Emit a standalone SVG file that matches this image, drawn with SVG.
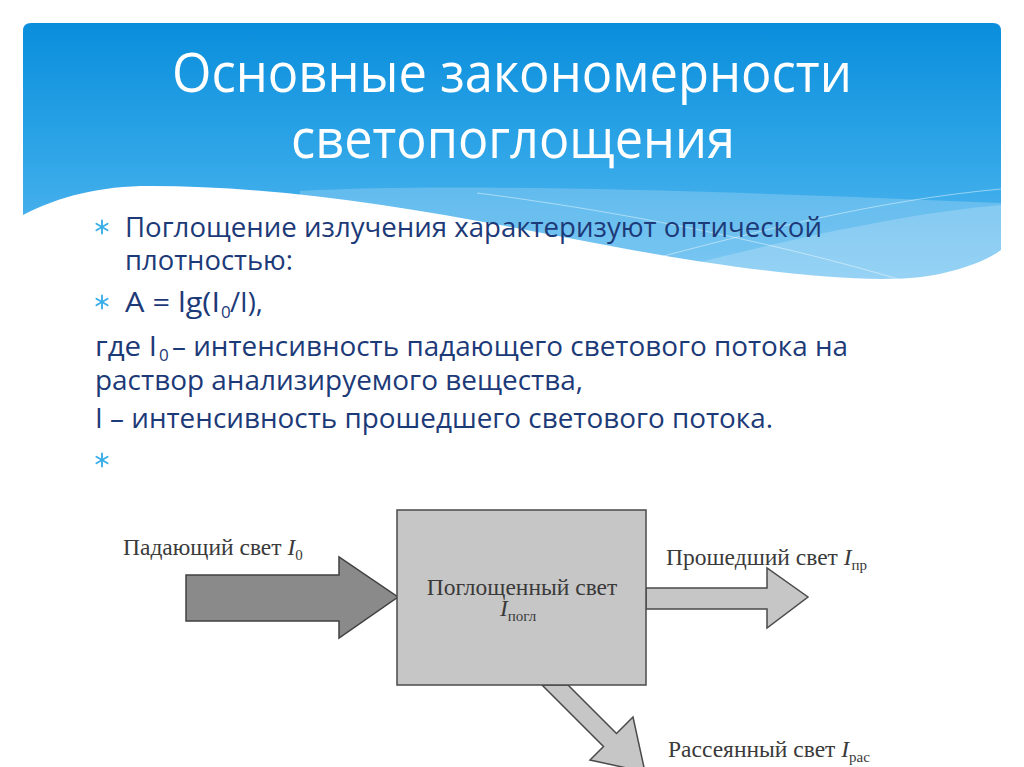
<svg xmlns="http://www.w3.org/2000/svg" width="1024" height="767" viewBox="0 0 1024 767">
<defs>
<linearGradient id="hdr" x1="0" y1="23" x2="0" y2="280" gradientUnits="userSpaceOnUse">
<stop offset="0" stop-color="#0a8edc"/>
<stop offset="0.5" stop-color="#2ea5e7"/>
<stop offset="1" stop-color="#5cbaf0"/>
</linearGradient>
<g id="star" stroke="#3aaee8" stroke-width="1.9" stroke-linecap="round">
<line x1="0" y1="-6.5" x2="0" y2="6.5"/>
<line x1="-5.6" y1="-3.2" x2="5.6" y2="3.2"/>
<line x1="-5.6" y1="3.2" x2="5.6" y2="-3.2"/>
</g>
<style>
.title{font-family:"Open Sans","DejaVu Sans",sans-serif;font-size:54px;fill:#ffffff}
.body{font-family:"Open Sans","DejaVu Sans",sans-serif;font-size:27px;fill:#1d3a78}
.sub{font-size:17px}
.lbl{font-family:"Liberation Serif","Times New Roman",serif;font-size:23.5px;fill:#3a3a3a}
.it{font-style:italic}
.ls{font-size:15px}
.box{fill:#c6c6c6;stroke:#4a4a4a;stroke-width:1.5}
.dark{fill:#8a8a8a;stroke:#404040;stroke-width:1.5;stroke-linejoin:miter}
.light{fill:#c6c6c6;stroke:#4a4a4a;stroke-width:1.5;stroke-linejoin:miter}
</style>
</defs>
<rect width="1024" height="767" fill="#ffffff"/>
<g id="header">
<path d="M23 300 L23 31 Q23 23 31 23 L993 23 Q1001 23 1001 31 L1001 300 Z" fill="url(#hdr)"/>
<path d="M300 191 C450 183 700 190 1001 203 L1001 300 L300 300 Z" fill="#ffffff" opacity="0.2"/>
<path d="M700 262 C820 232 920 212 1001 205 L1001 300 L700 300 Z" fill="#ffffff" opacity="0.2"/>
<path d="M477 193 C650 215 800 250 898 279" fill="none" stroke="#ffffff" stroke-opacity="0.45" stroke-width="1"/>
<path d="M630 265 C760 230 880 200 1001 189" fill="none" stroke="#ffffff" stroke-opacity="0.45" stroke-width="1"/>
<path d="M0 218 L23 215 C60 196 100 186 150 186 C300 186 450 215 600 244 C720 267 840 283 910 278 C950 275 985 262 1001 250 L1024 240 L1024 320 L0 320 Z" fill="#ffffff"/>
<text class="title"><tspan x="172" y="92" textLength="680" lengthAdjust="spacingAndGlyphs">Основные закономерности</tspan><tspan x="291" y="158" textLength="444" lengthAdjust="spacingAndGlyphs">светопоглощения</tspan></text>
</g>
<g id="bullets">
<use href="#star" x="102" y="227"/>
<use href="#star" x="102" y="302"/>
<use href="#star" x="102" y="460"/>
<text class="body"><tspan x="125" y="237" textLength="697" lengthAdjust="spacingAndGlyphs">Поглощение излучения характеризуют оптической</tspan><tspan x="125" y="270" textLength="168" lengthAdjust="spacingAndGlyphs">плотностью:</tspan></text>
<text class="body"><tspan x="125" y="312" textLength="95" lengthAdjust="spacingAndGlyphs">A = lg(I</tspan><tspan class="sub" x="221" y="318">0</tspan><tspan x="230" y="312" textLength="33" lengthAdjust="spacingAndGlyphs">/I),</tspan></text>
<text class="body"><tspan x="95" y="356" textLength="62" lengthAdjust="spacingAndGlyphs">где I</tspan><tspan class="sub" x="159" y="361">0</tspan><tspan x="172" y="356" textLength="676" lengthAdjust="spacingAndGlyphs">– интенсивность падающего светового потока на</tspan><tspan x="95" y="390" textLength="488" lengthAdjust="spacingAndGlyphs">раствор анализируемого вещества,</tspan></text>
<text class="body" x="95" y="428" textLength="678" lengthAdjust="spacingAndGlyphs">I – интенсивность прошедшего светового потока.</text>
</g>
<g id="connectors">
<path class="dark" d="M186 575 L339 575 L339 557 L398 597 L339 638 L339 621 L186 621 Z"/>
<path class="light" d="M646 588 L767 588 L767 568 L808 597 L767 628 L767 609 L646 609 Z"/>
<path class="light" d="M542 685 L568 685 L616.5 733.5 L633 717 L645 772 L590 760 L603.5 746.5 Z"/>
</g>
<g id="absorbed">
<rect class="box" x="397" y="510" width="249" height="175"/>
<text class="lbl"><tspan x="522" y="595" text-anchor="middle">Поглощенный свет</tspan><tspan class="it" x="500" y="616">I</tspan><tspan class="ls" dy="5">погл</tspan></text>
</g>
<g id="incident">
<text class="lbl" x="123" y="555">Падающий свет <tspan class="it">I</tspan><tspan class="ls" dy="5">0</tspan></text>
</g>
<g id="transmitted">
<text class="lbl" x="666" y="565">Прошедший свет <tspan class="it">I</tspan><tspan class="ls" dy="5">пр</tspan></text>
</g>
<g id="scattered">
<text class="lbl" x="668" y="757">Рассеянный свет <tspan class="it">I</tspan><tspan class="ls" dy="5">рас</tspan></text>
</g>
</svg>
